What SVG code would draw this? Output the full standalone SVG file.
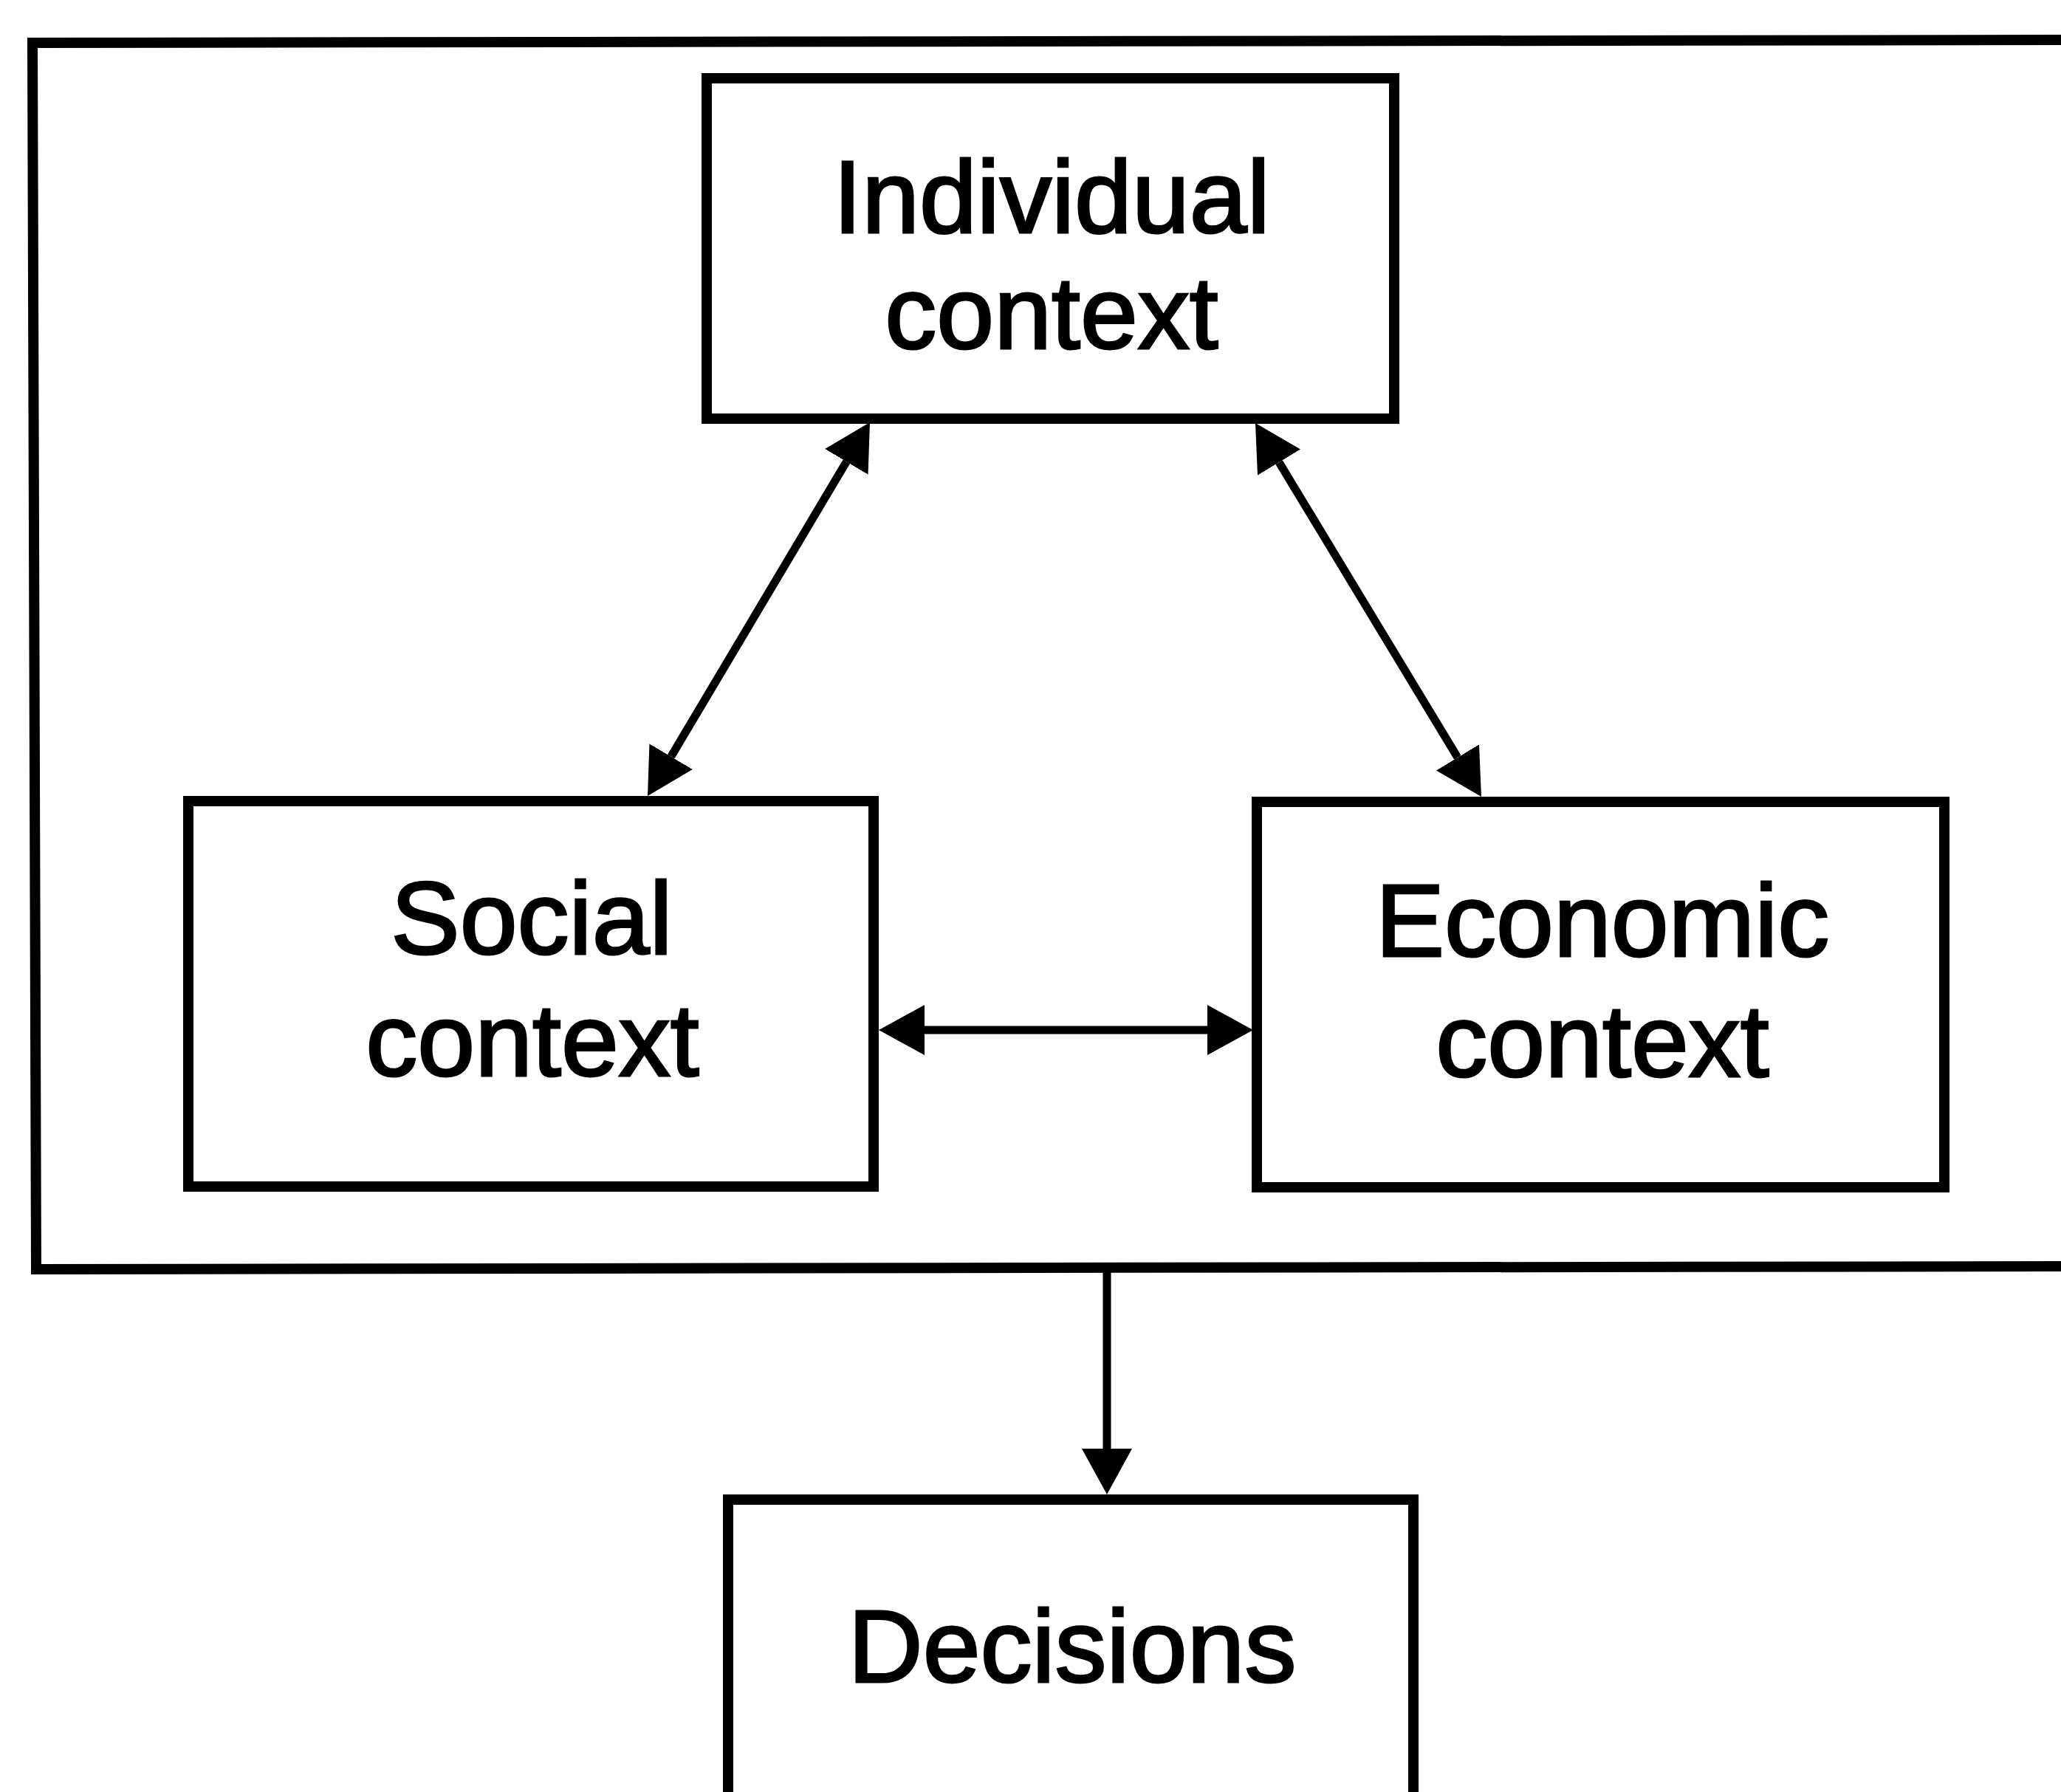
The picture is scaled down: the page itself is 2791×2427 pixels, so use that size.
<svg xmlns="http://www.w3.org/2000/svg" width="2791" height="2427" viewBox="0 0 2791 2427">
<style>
.box{fill:#fff;stroke:#000;stroke-width:14}
.frame{fill:none;stroke:#000;stroke-width:14}
.lbl{font-family:"Liberation Sans",Arial,sans-serif;font-size:140px;fill:#000;stroke:#000;stroke-width:3;text-anchor:middle}
.conn{fill:none;stroke:#000;stroke-width:11}
</style>
<defs>
<marker id="ah" viewBox="0 0 62 68" refX="0" refY="34" markerWidth="62" markerHeight="68" markerUnits="userSpaceOnUse" orient="auto-start-reverse">
<path d="M0,0 L62,34 L0,68 Z" fill="#000"/>
</marker>
</defs>
<rect width="2791" height="2427" fill="#fff"/>
<g id="frame">
<path class="frame" d="M2810,54 L44,58 L49,1719 L2810,1715"/>
</g>
<g id="individual">
<rect class="box" x="957" y="106" width="931" height="461"/>
<text class="lbl" x="1424" y="315">Individual</text>
<text class="lbl" x="1424" y="472">context</text>
</g>
<g id="social">
<rect class="box" x="255" y="1085" width="928" height="522"/>
<text class="lbl" x="720" y="1292">Social</text>
<text class="lbl" x="721" y="1457">context</text>
</g>
<g id="economic">
<rect class="box" x="1702" y="1086" width="931" height="522"/>
<text class="lbl" x="2170" y="1295">Economic</text>
<text class="lbl" x="2170" y="1458">context</text>
</g>
<g id="decisions">
<rect class="box" x="986" y="2031" width="928" height="500"/>
<text class="lbl" x="1452" y="2278">Decisions</text>
</g>
<g id="connectors">
<line class="conn" x1="1146.3" y1="625.3" x2="908.7" y2="1024.7" marker-start="url(#ah)" marker-end="url(#ah)"/>
<line class="conn" x1="1732.1" y1="626.1" x2="1973.9" y2="1025.9" marker-start="url(#ah)" marker-end="url(#ah)"/>
<line class="conn" x1="1252" y1="1395" x2="1635" y2="1395" marker-start="url(#ah)" marker-end="url(#ah)"/>
<line class="conn" x1="1499" y1="1717" x2="1499" y2="1962" marker-end="url(#ah)"/>
</g>
</svg>
